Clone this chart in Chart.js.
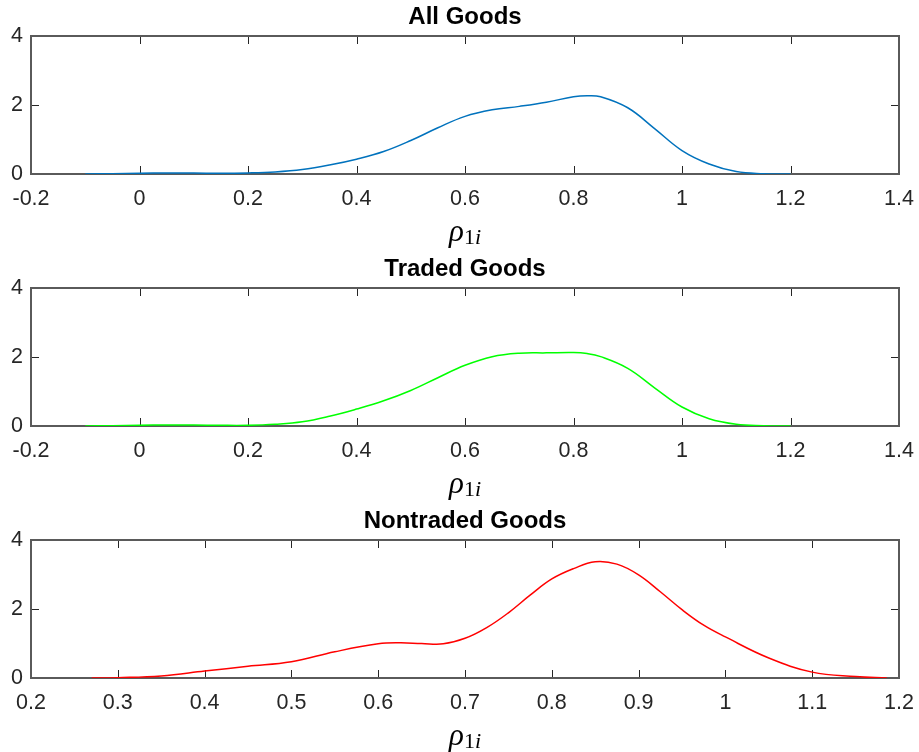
<!DOCTYPE html>
<html lang="en">
<head>
  <meta charset="UTF-8" />
  <title>Density of rho_1i</title>
  <script src="https://cdn.jsdelivr.net/npm/chart.js"></script>
  <style>
    body {
      margin: 0;
      background: #fff;
      font-family: "Liberation Sans", Arial, sans-serif;
    }
    .wrap {
      position: relative;
      width: 919px;
      height: 752px;
      overflow: hidden;
    }
    .panel {
      position: absolute;
      left: 0;
      width: 919px;
      height: 248px;
    }
    .xlabel {
      position: absolute;
      left: 31px;
      width: 868px;
      text-align: center;
      font-family: "Liberation Serif", "DejaVu Serif", serif;
      font-size: 31px;
      line-height: 28px;
      color: #000;
    }
    .xlabel sub {
      font-size: 22px;
      vertical-align: -3px;
      font-style: normal;
    }
  </style>
</head>
<body>
<div class="wrap">
  <div class="panel" style="top:0px"><canvas id="c0" width="919" height="248"></canvas></div>
  <div class="panel" style="top:252px"><canvas id="c1" width="919" height="248"></canvas></div>
  <div class="panel" style="top:504px"><canvas id="c2" width="919" height="248"></canvas></div>
  <div class="xlabel" style="top:217px"><i>ρ</i><sub>1<i>i</i></sub></div>
  <div class="xlabel" style="top:469px"><i>ρ</i><sub>1<i>i</i></sub></div>
  <div class="xlabel" style="top:721px"><i>ρ</i><sub>1<i>i</i></sub></div>
</div>

<script>
  // x grid shared by the first two panels
  const rhoGrid = [-0.1, -0.05, 0, 0.05, 0.1, 0.15, 0.2, 0.25, 0.3, 0.35,
                   0.4, 0.45, 0.5, 0.55, 0.6, 0.65, 0.7, 0.75, 0.8, 0.825,
                   0.85, 0.9, 0.95, 1.0, 1.05, 1.1, 1.15, 1.2];
  const allGoods = [0, 0.01, 0.02, 0.03, 0.03, 0.02, 0.03, 0.06, 0.13, 0.26,
                    0.43, 0.65, 0.97, 1.34, 1.67, 1.86, 1.96, 2.08, 2.24, 2.27,
                    2.24, 1.92, 1.31, 0.68, 0.29, 0.07, 0.01, 0];
  const tradedGoods = [0, 0.01, 0.02, 0.03, 0.03, 0.02, 0.02, 0.05, 0.12, 0.28,
                       0.49, 0.73, 1.03, 1.40, 1.76, 2.01, 2.11, 2.12, 2.13, 2.10,
                       2.01, 1.67, 1.10, 0.55, 0.21, 0.05, 0.01, 0];

  const nontradedX = [0.27, 0.3, 0.35, 0.4, 0.45, 0.5, 0.55, 0.6, 0.625, 0.65,
                      0.675, 0.7, 0.725, 0.75, 0.775, 0.8, 0.825, 0.85, 0.875, 0.9,
                      0.925, 0.95, 0.975, 1.0, 1.05, 1.1, 1.15, 1.186];
  const nontradedGoods = [0, 0.01, 0.06, 0.2, 0.34, 0.47, 0.76, 0.99, 1.02, 1.0,
                          0.99, 1.15, 1.46, 1.89, 2.4, 2.87, 3.17, 3.37, 3.3, 2.99,
                          2.5, 1.98, 1.53, 1.19, 0.58, 0.17, 0.04, 0];

  const xTicksWide = [-0.2, 0, 0.2, 0.4, 0.6, 0.8, 1, 1.2, 1.4];
  const xTicksNarrow = [0.2, 0.3, 0.4, 0.5, 0.6, 0.7, 0.8, 0.9, 1, 1.1, 1.2];
  const yTicks = [0, 2, 4];

  const titles = ["All Goods", "Traded Goods", "Nontraded Goods"];
  const colors = ["#0072BD", "#00FF00", "#FF0000"];

  const tickFont = { family: "'Liberation Sans', Arial, sans-serif", size: 21.5 };

  // MATLAB style box with inward ticks on all four sides
  const boxAxes = {
    id: 'boxAxes',
    beforeDatasetsDraw(chart) {
      const { ctx, chartArea: a, scales: { x, y } } = chart;
      ctx.save();
      ctx.strokeStyle = '#262626';
      ctx.lineWidth = 1;
      ctx.beginPath();
      x.ticks.forEach(t => {
        const px = Math.round(x.getPixelForValue(t.value)) + 0.5;
        ctx.moveTo(px, a.bottom); ctx.lineTo(px, a.bottom - 8);
        ctx.moveTo(px, a.top); ctx.lineTo(px, a.top + 8);
      });
      y.ticks.forEach(t => {
        const py = Math.round(y.getPixelForValue(t.value)) + 0.5;
        ctx.moveTo(a.left, py); ctx.lineTo(a.left + 8, py);
        ctx.moveTo(a.right, py); ctx.lineTo(a.right - 8, py);
      });
      ctx.stroke();
      ctx.strokeStyle = '#5a5a5a';
      ctx.lineWidth = 2;
      ctx.strokeRect(a.left, a.top, a.right - a.left, a.bottom - a.top);
      ctx.restore();
    }
  };

  function makeChart(id, title, color, points, xMin, xMax, xTicks) {
    return new Chart(document.getElementById(id), {
      type: 'line',
      data: {
        datasets: [{
          data: points,
          borderColor: color,
          borderWidth: 1.5,
          pointRadius: 0,
          fill: false,
          tension: 0.4
        }]
      },
      options: {
        responsive: false,
        animation: false,
        devicePixelRatio: 1,
        layout: { padding: { left: 0, right: 20, top: 0, bottom: 0 } },
        plugins: {
          legend: { display: false },
          tooltip: { enabled: false },
          title: {
            display: true,
            text: title,
            fullSize: false,
            color: '#000',
            font: { family: "'Liberation Sans', Arial, sans-serif", size: 24, weight: 'bold' },
            padding: { top: 2.8, bottom: 4.4 }
          }
        },
        scales: {
          x: {
            type: 'linear',
            min: xMin,
            max: xMax,
            afterBuildTicks: s => { s.ticks = xTicks.map(v => ({ value: v })); },
            afterFit: s => { s.height = 74; s.paddingLeft = 0; s.paddingRight = 0; },
            ticks: {
              color: '#262626',
              font: tickFont,
              padding: 12,
              maxRotation: 0,
              autoSkip: false,
              callback: v => +v.toFixed(1)
            },
            grid: { display: false, drawTicks: false },
            border: { display: false }
          },
          y: {
            min: 0,
            max: 4,
            afterBuildTicks: s => { s.ticks = yTicks.map(v => ({ value: v })); },
            afterFit: s => { s.width = 31; s.paddingTop = 0; s.paddingBottom = 0; },
            ticks: {
              color: '#262626',
              font: tickFont,
              padding: 8,
              callback: v => v
            },
            grid: { display: false, drawTicks: false },
            border: { display: false }
          }
        }
      },
      plugins: [boxAxes]
    });
  }

  const allPts = rhoGrid.map((x, i) => ({ x: x, y: allGoods[i] }));
  const tradedPts = rhoGrid.map((x, i) => ({ x: x, y: tradedGoods[i] }));
  const nontradedPts = nontradedX.map((x, i) => ({ x: x, y: nontradedGoods[i] }));

  makeChart('c0', titles[0], colors[0], allPts, -0.2, 1.4, xTicksWide);
  makeChart('c1', titles[1], colors[1], tradedPts, -0.2, 1.4, xTicksWide);
  makeChart('c2', titles[2], colors[2], nontradedPts, 0.2, 1.2, xTicksNarrow);
</script>
</body>
</html>
